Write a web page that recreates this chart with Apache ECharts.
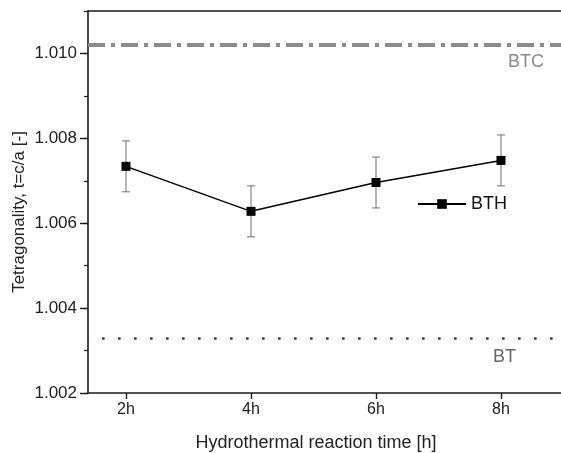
<!DOCTYPE html>
<html>
<head>
<meta charset="utf-8">
<script src="https://cdn.jsdelivr.net/npm/echarts@6/dist/echarts.min.js"></script>
<style>
html,body{margin:0;padding:0;background:#fff;}
#chart{width:561px;height:453px;}
</style>
</head>
<body>
<div id="chart"></div>
<script>
// ---- data ----
const categories = ['2h', '4h', '6h', '8h'];
const hours = [2, 4, 6, 8];
const tetragonality = [1.00734, 1.00628, 1.00696, 1.00748];
const errors = [0.0006, 0.0006, 0.0006, 0.0006];
const yMajorTicks = [1.002, 1.004, 1.006, 1.008, 1.010];
const refBTC = 1.0102;
const refBT = 1.0033;
const seriesName = 'BTH';

const FONT = 'Liberation Sans, Arial, Helvetica, sans-serif';
const chart = echarts.init(document.getElementById('chart'), null, {renderer: 'canvas'});

const lineData = hours.map((h, i) => [h, tetragonality[i]]);
const errData = hours.map((h, i) => [h, tetragonality[i] - errors[i], tetragonality[i] + errors[i]]);

const option = {
  animation: false,
  backgroundColor: '#fff',
  grid: {left: 88, top: 11, right: 0, bottom: 60, containLabel: false},
  legend: {
    data: [seriesName],
    left: 412, top: 190,
    itemWidth: 48, itemHeight: 12,
    textStyle: {fontFamily: FONT, fontSize: 18, color: '#111'}
  },
  xAxis: [{
    type: 'value', min: 1.392, max: 8.96, position: 'bottom',
    splitLine: {show: false},
    axisLine: {lineStyle: {color: '#1a1a1a', width: 1.6}},
    axisTick: {customValues: hours, length: 6, inside: false, lineStyle: {color: '#1a1a1a', width: 1.4}},
    axisLabel: {
      customValues: hours, margin: 9,
      fontFamily: FONT, fontSize: 16, color: '#222',
      formatter: v => categories[hours.indexOf(v)] || ''
    }
  }, {
    type: 'value', min: 1.392, max: 8.96, position: 'top',
    splitLine: {show: false},
    axisLine: {lineStyle: {color: '#1a1a1a', width: 1.6}},
    axisTick: {show: false}, axisLabel: {show: false}
  }],
  yAxis: [{
    type: 'value', min: 1.002, max: 1.011, interval: 0.001,
    splitLine: {show: false},
    axisLine: {lineStyle: {color: '#1a1a1a', width: 1.6}},
    axisTick: {length: 4, lineStyle: {color: '#1a1a1a', width: 1.2}},
    axisLabel: {
      margin: 11, fontFamily: FONT, fontSize: 17, color: '#222',
      formatter: v => {
        const hit = yMajorTicks.find(t => Math.abs(t - v) < 1e-7);
        return hit !== undefined ? hit.toFixed(3) : '';
      }
    }
  }, {
    type: 'value', min: 1.002, max: 1.011, position: 'left',
    splitLine: {show: false},
    axisLine: {show: false},
    axisTick: {customValues: yMajorTicks, length: 8, lineStyle: {color: '#1a1a1a', width: 1.4}},
    axisLabel: {show: false}
  }],
  graphic: [
    {type: 'text', left: 508, top: 53, style: {text: 'BTC', fontFamily: FONT, fontSize: 18, fill: '#8a8a8a'}},
    {type: 'text', left: 493, top: 348, style: {text: 'BT', fontFamily: FONT, fontSize: 18, fill: '#666'}},
    {type: 'text', x: 19, y: 212, rotation: Math.PI / 2,
      style: {text: 'Tetragonality, t=c/a [-]', fontFamily: FONT, fontSize: 17, fill: '#222', align: 'center', verticalAlign: 'middle'}},
    {type: 'text', x: 316, y: 443,
      style: {text: 'Hydrothermal reaction time [h]', fontFamily: FONT, fontSize: 18, fill: '#222', align: 'center', verticalAlign: 'middle'}}
  ],
  series: [{
    type: 'custom',
    name: 'err',
    silent: true,
    data: errData,
    z: 1,
    renderItem: (params, api) => {
      const x = api.value(0);
      const lo = api.coord([x, api.value(1)]);
      const hi = api.coord([x, api.value(2)]);
      const w = 4;
      const st = {stroke: '#6e6e6e', lineWidth: 1};
      return {type: 'group', children: [
        {type: 'line', shape: {x1: lo[0], y1: lo[1], x2: hi[0], y2: hi[1]}, style: st},
        {type: 'line', shape: {x1: lo[0] - w, y1: lo[1], x2: lo[0] + w, y2: lo[1]}, style: st},
        {type: 'line', shape: {x1: hi[0] - w, y1: hi[1], x2: hi[0] + w, y2: hi[1]}, style: st}
      ]};
    }
  }, {
    type: 'line',
    name: seriesName,
    data: lineData,
    z: 3,
    symbol: 'rect', symbolSize: 9,
    itemStyle: {color: '#000'},
    lineStyle: {color: '#000', width: 1.5},
    markLine: {
      silent: true, symbol: 'none', precision: 6, label: {show: false},
      data: [
        {yAxis: refBTC, lineStyle: {color: '#8a8a8a', width: 4, type: [17, 6, 4, 6], cap: 'butt'}},
        {yAxis: refBT, lineStyle: {color: '#3a3a3a', width: 2.6, type: [2.6, 13.4], dashOffset: -14}}
      ]
    }
  }]
};
chart.setOption(option);
</script>
</body>
</html>
